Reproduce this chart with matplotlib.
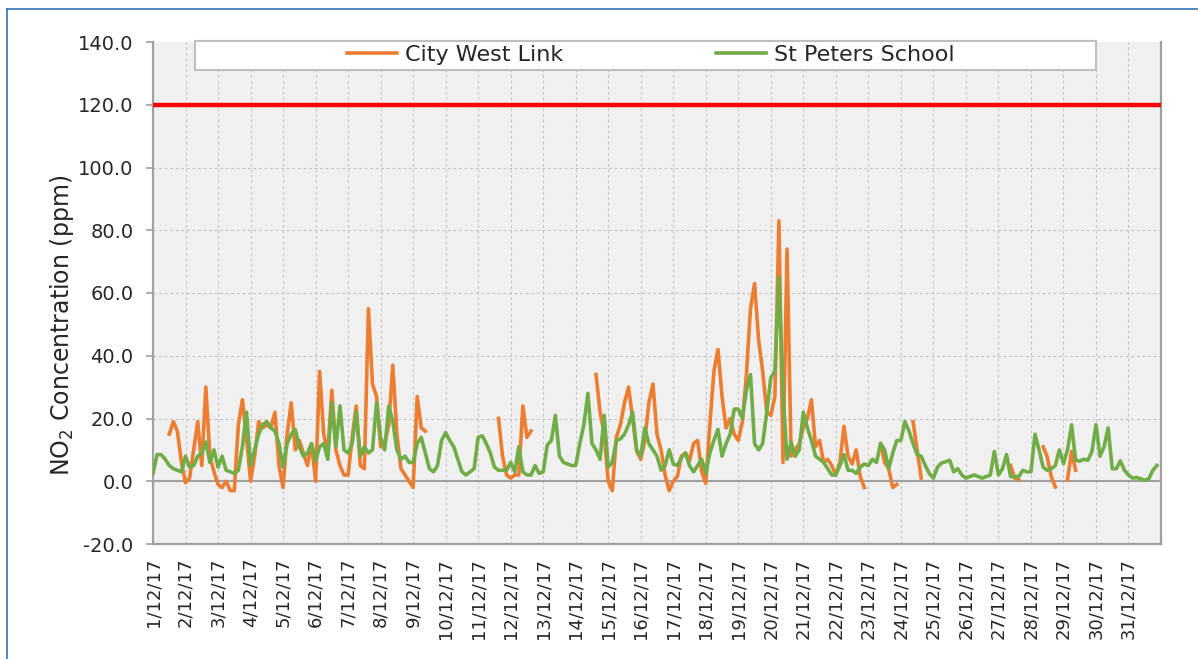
import numpy as np
import matplotlib
matplotlib.use("Agg")
import matplotlib.pyplot as plt
from matplotlib.lines import Line2D
from matplotlib.patches import Rectangle

nan = np.nan

# NO2 readings, Dec 2017, one value every 3 hours (8 per day)
city_west_link = [
    [nan, nan, nan, nan, 15, 19, 16, 6],      # 1/12
    [-0.5, 1, 10, 19, 5, 30, 8, 3],
    [-1, -2, 0, -3, -3, 18, 26, 14],
    [0, 8, 19, 17, 18, 17, 22, 5],
    [-2, 15, 25, 10, 13, 9, 5, 12],           # 5/12
    [0, 35, 15, 9, 29, 10, 5, 2],
    [2, 14, 24, 5, 4, 55, 31, 27],
    [11, 12, 18, 37, 15, 4, 2, 0],
    [-2, 27, 17, 16, nan, nan, nan, nan],
    [nan, nan, nan, nan, nan, nan, nan, nan],  # 10/12
    [nan, nan, nan, nan, nan, 20, 8, 2],
    [1, 2, 2, 24, 14, 16, nan, nan],
    [nan, nan, nan, nan, nan, nan, nan, nan],
    [nan, nan, nan, nan, nan, 34, 22, 15],
    [0, -3, 14, 18, 25, 30, 20, 9.5],         # 15/12
    [7, 13, 25, 31, 15, 10, 2, -3],
    [0, 1.5, 8, 9, 6.5, 12, 13, 3],
    [-0.7, 18, 35, 42, 27, 17, 20, 15],
    [13, 19, 34, 55, 63, 45, 35, 22],
    [21, 27, 83, 6, 74, 8, 10, 12],           # 20/12
    [17, 20, 26, 11, 13, 6, 7, 5],
    [2, 6, 17.5, 8, 5.5, 10, 1.5, -2],
    [nan, nan, nan, 12, 6, 4, -2, -1],
    [nan, nan, nan, 19, 10, 1, nan, nan],
    [nan, nan, nan, nan, nan, nan, nan, nan],  # 25/12
    [nan, nan, nan, nan, nan, nan, nan, nan],
    [nan, nan, nan, 5, 1, 0.5, nan, nan],
    [nan, nan, nan, 11, 7.8, 1.4, -1.8, nan],
    [nan, 0.5, 9.5, 3.5, nan, nan, nan, nan],
    [nan, nan, nan, nan, nan, nan, nan, nan],  # 30/12
    [nan, nan, nan, nan, nan, nan, nan, nan],
]

st_peters_school = [
    [2.5, 8.5, 8.5, 7, 5, 4, 3.5, 3],        # 1/12
    [8, 4.5, 5, 8, 9, 12.5, 6, 10],
    [4.5, 8, 3.5, 3, 2.5, 3.5, 11, 22],
    [5, 10, 15, 18, 19, 17, 16, 12],
    [4.5, 12, 15, 16.5, 11, 8, 9, 12],       # 5/12
    [6.5, 11, 12, 7, 25, 11, 24, 10],
    [9, 12, 22, 8, 11, 9, 10, 25],
    [14, 10, 24, 19, 10, 7, 8, 6],
    [6, 12, 14, 9, 4, 3, 5, 13],
    [15.5, 13, 11, 7, 3, 2, 3, 4],           # 10/12
    [14, 14.5, 12, 9, 4.5, 3.5, 3.5, 3.5],
    [6, 3, 11, 3, 2, 2, 5, 2.5],
    [3, 11.5, 13, 21, 8, 6, 5.5, 5],
    [5, 12, 18, 28, 12, 10, 7, 21],
    [4.5, 6, 13, 13.5, 15, 18, 22, 10],      # 15/12
    [8, 17, 12, 10, 8, 3.5, 5, 10],
    [5.5, 5, 7.5, 9, 5, 3, 5, 7],
    [2.5, 9, 13, 16.5, 8, 12, 15, 23],
    [23, 20, 29, 34, 12, 10, 12, 22],
    [33, 35, 65, 28, 7, 12.5, 8, 10],        # 20/12
    [22, 17, 13, 8, 7, 6, 4, 2],
    [2, 5, 8.5, 3.5, 3.5, 2.5, 4.5, 5.5],
    [5, 7, 6, 12, 10, 4, 9, 13],
    [13, 19, 16, 12, 8.5, 8, 5, 2.5],
    [1, 4.5, 5.8, 6.2, 6.7, 3, 4, 2],        # 25/12
    [1, 1.5, 2, 1.5, 1, 1.5, 2, 9.5],
    [2, 4, 8.5, 1.5, 1.5, 1.5, 3.5, 3],
    [3, 15, 10, 4.5, 3.5, 4, 5, 10],
    [5.6, 10, 18, 6.7, 6.4, 7, 6.7, 9.4],
    [18, 8, 11, 17, 4, 4, 6.5, 3.5],         # 30/12
    [2, 1, 1.2, 0.8, 0.3, 0.8, 3.5, 5],
]

day_labels = ["%d/12/17" % d for d in range(1, 32)]
y_ticks = [-20, 0, 20, 40, 60, 80, 100, 120, 140]
limit_value = 120

cwl = np.array(city_west_link, dtype=float).ravel()
sps = np.array(st_peters_school, dtype=float).ravel()
t = np.arange(len(cwl)) / 8.0  # days since 1/12/17 00:00

ORANGE = "#ed7d31"
GREEN = "#70ad47"
GRID = "#c4c4c4"
AXIS = "#a0a0a0"
TEXT = "#262626"

plt.rcParams["font.family"] = "DejaVu Sans"

fig = plt.figure(figsize=(11.98, 6.59), dpi=100)
ax = fig.add_axes([153 / 1198, 1 - 544 / 659, 1008 / 1198, 502 / 659])
ax.set_facecolor("#f0f0f0")

for d in range(1, 31):
    ax.axvline(d, color=GRID, lw=0.8, ls=(0, (2.5, 2.5)), zorder=1)
for v in [20, 40, 60, 80, 100]:
    ax.axhline(v, color=GRID, lw=0.8, ls=(0, (2.5, 2.5)), zorder=1)
ax.axhline(0, color=AXIS, lw=1.5, zorder=2)

ax.plot(t, cwl, color=ORANGE, lw=2.6, zorder=3)
ax.plot(t, sps, color=GREEN, lw=2.6, zorder=4)
ax.axhline(limit_value, color="#ff0000", lw=3.2, zorder=5)

ax.set_xlim(0, 31)
ax.set_ylim(-20, 140)
ax.set_xticks(range(31))
ax.set_xticklabels(day_labels, rotation=90, fontsize=13, color=TEXT)
ax.set_yticks(y_ticks)
ax.set_yticklabels(["%.1f" % v for v in y_ticks], fontsize=14, color=TEXT)
ax.tick_params(axis="x", length=0, pad=10)
ax.tick_params(axis="y", length=5, width=1.2, color=AXIS, pad=9)

for side in ["left", "bottom", "right"]:
    ax.spines[side].set_color(AXIS)
    ax.spines[side].set_linewidth(1.6)
ax.spines["top"].set_visible(False)

fig.text(62 / 1198, 1 - 325 / 659, "NO$_2$ Concentration (ppm)", rotation=90,
         ha="center", va="center", fontsize=17, color=TEXT)

# legend: white box across the top of the plot
box = Rectangle((0.0417, 0.9436), 0.8938, 0.059, transform=ax.transAxes,
                facecolor="white", edgecolor="#bfbfbf", lw=1.5, clip_on=False, zorder=6)
ax.add_patch(box)
handles = [Line2D([], [], color=ORANGE, lw=2.6), Line2D([], [], color=GREEN, lw=2.6)]
leg = ax.legend(handles, ["City West Link", "St Peters School"], ncol=2, loc="center",
                bbox_to_anchor=(0.494, 0.974), frameon=False, fontsize=16,
                handlelength=2.25, handletextpad=0.35, columnspacing=6.9,
                borderpad=0, labelcolor=TEXT)
leg.set_zorder(7)

# thin blue frame around the chart
fig.add_artist(Line2D([7 / 1198, 7 / 1198], [0, 1 - 9 / 659], color="#2e75b6", lw=1.2))
fig.add_artist(Line2D([7 / 1198, 1], [1 - 9 / 659, 1 - 9 / 659], color="#2e75b6", lw=1.2))

fig.savefig("out.png", dpi=100)
